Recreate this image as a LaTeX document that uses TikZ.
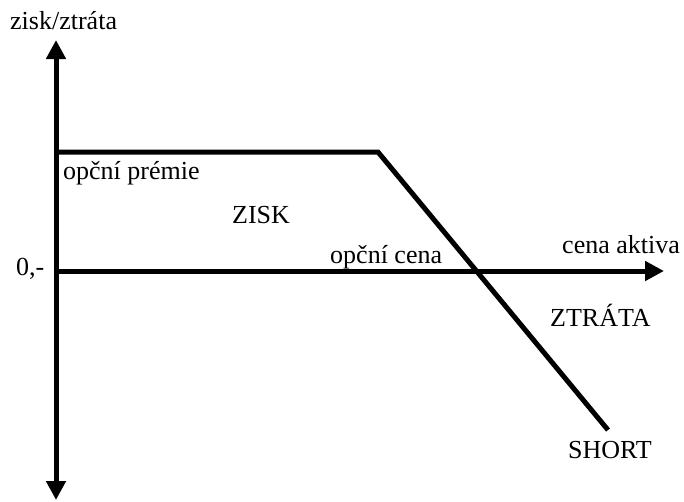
\documentclass[tikz,border=0pt]{standalone}
\usepackage{fontspec}
\setmainfont{Liberation Serif}
\usetikzlibrary{arrows.meta}
\begin{document}
\begin{tikzpicture}[x=1pt,y=-1pt,
  axis/.style={line width=5pt,-{Triangle[width=19pt,length=19pt]}},
  curve/.style={line width=5pt},
  lbl/.style={inner sep=0pt,anchor=base west,font=\fontsize{26}{30}\selectfont}]
\useasboundingbox (0,0) rectangle (684,501);
% axes
\coordinate (O) at (56,271);
\coordinate (ytop) at (56,40);
\coordinate (ybot) at (56,500);
\coordinate (xend) at (664,271);
\draw[axis] (O) -- (ytop);
\draw[axis] (O) -- (ybot);
\draw[axis] (O) -- (xend);
% short call payoff
\coordinate (p0) at (54,152);
\coordinate (k) at (378,152);
\coordinate (p1) at (608,430);
\draw[curve,line join=miter] (p0) -- (k) -- (p1);
% labels
\node[lbl] (ylab) at (10,29) {zisk/ztráta};
\node[lbl] (prem) at (63,179) {opční prémie};
\node[lbl] (zisk) at (232,223) {ZISK};
\node[lbl] (strike) at (330,263) {opční cena};
\node[lbl] (xlab) at (562,253) {cena aktiva};
\node[lbl] (zero) at (16,275) {0,-};
\node[lbl] (ztrata) at (550,326) {ZTRÁTA};
\node[lbl] (short) at (568,458) {SHORT};
\end{tikzpicture}
\end{document}
